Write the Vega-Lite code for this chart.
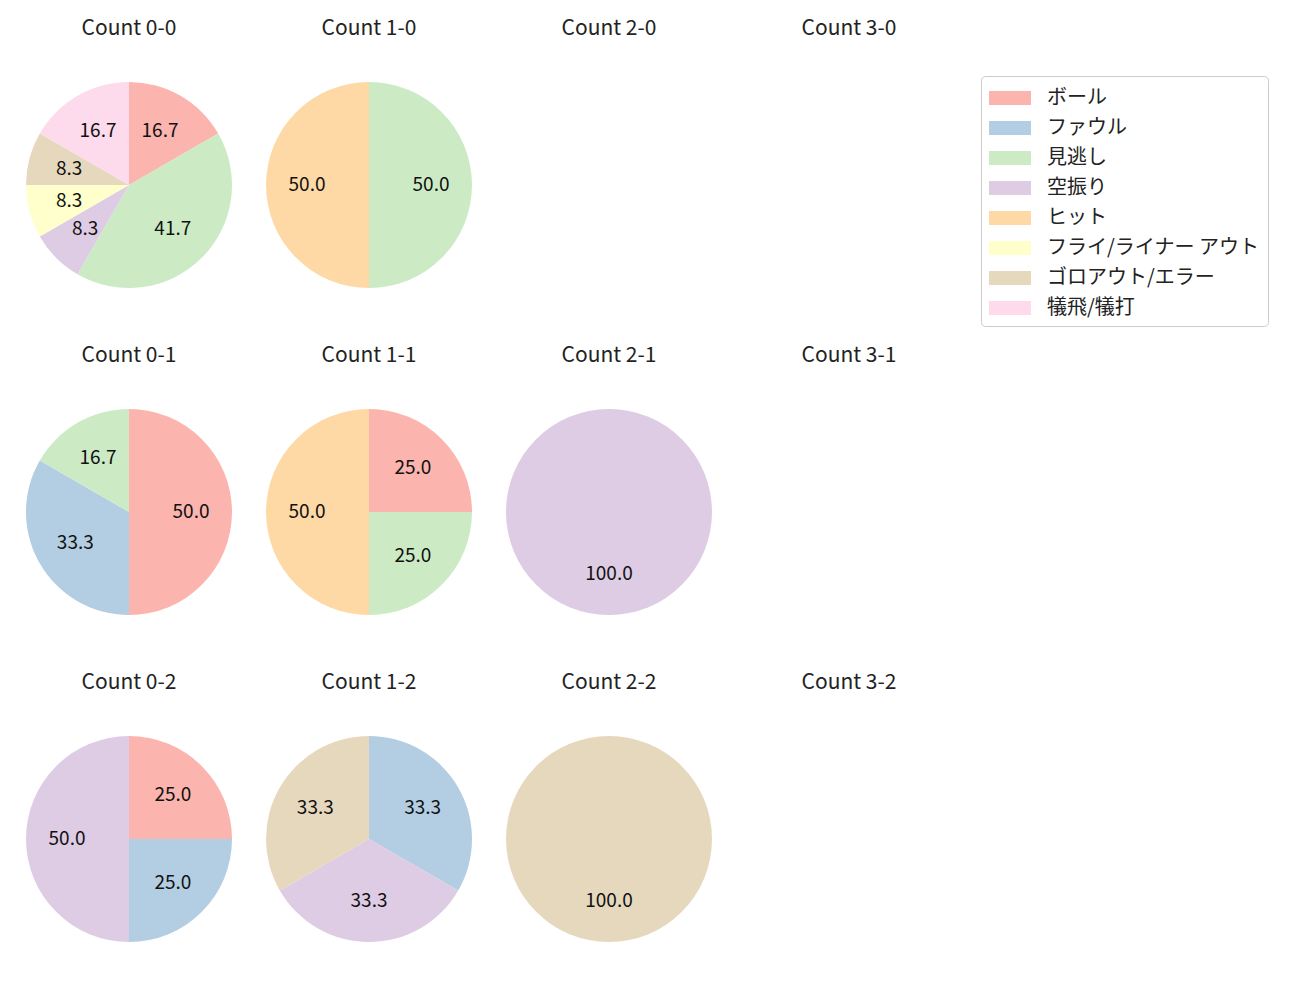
{
  "$schema": "https://vega.github.io/schema/vega-lite/v6.json",
  "padding": {"left": 26, "top": 18, "right": 0, "bottom": 0},
  "background": "white",
  "config": {
    "font": "Noto Sans CJK JP",
    "view": {"stroke": null},
    "legend": {
      "orient": "none",
      "legendX": 955,
      "legendY": -6,
      "strokeColor": "#cccccc",
      "fillColor": "white",
      "cornerRadius": 4,
      "padding": 8,
      "labelFontSize": 20,
      "labelColor": "#222222",
      "labelOffset": 30,
      "symbolType": "M-1,-0.5h3v1h-3z",
      "symbolSize": 784,
      "symbolStrokeWidth": 0,
      "rowPadding": 6,
      "labelLimit": 400
    }
  },
  "data": {
    "values": [
      {"count": "0-0", "type": "ボール", "pct": 16.67},
      {"count": "0-0", "type": "見逃し", "pct": 41.67},
      {"count": "0-0", "type": "空振り", "pct": 8.33},
      {"count": "0-0", "type": "フライ/ライナー アウト", "pct": 8.33},
      {"count": "0-0", "type": "ゴロアウト/エラー", "pct": 8.33},
      {"count": "0-0", "type": "犠飛/犠打", "pct": 16.67},
      {"count": "1-0", "type": "見逃し", "pct": 50},
      {"count": "1-0", "type": "ヒット", "pct": 50},
      {"count": "2-0", "type": "ボール", "pct": 0},
      {"count": "3-0", "type": "ボール", "pct": 0},
      {"count": "0-1", "type": "ボール", "pct": 50},
      {"count": "0-1", "type": "ファウル", "pct": 33.33},
      {"count": "0-1", "type": "見逃し", "pct": 16.67},
      {"count": "1-1", "type": "ボール", "pct": 25},
      {"count": "1-1", "type": "見逃し", "pct": 25},
      {"count": "1-1", "type": "ヒット", "pct": 50},
      {"count": "2-1", "type": "空振り", "pct": 100},
      {"count": "3-1", "type": "ボール", "pct": 0},
      {"count": "0-2", "type": "ボール", "pct": 25},
      {"count": "0-2", "type": "ファウル", "pct": 25},
      {"count": "0-2", "type": "空振り", "pct": 50},
      {"count": "1-2", "type": "ファウル", "pct": 33.33},
      {"count": "1-2", "type": "空振り", "pct": 33.33},
      {"count": "1-2", "type": "ゴロアウト/エラー", "pct": 33.34},
      {"count": "2-2", "type": "ゴロアウト/エラー", "pct": 100},
      {"count": "3-2", "type": "ボール", "pct": 0}
    ]
  },
  "facet": {
    "field": "count",
    "type": "nominal",
    "sort": ["0-0", "1-0", "2-0", "3-0", "0-1", "1-1", "2-1", "3-1", "0-2", "1-2", "2-2", "3-2"],
    "header": {
      "title": null,
      "labelExpr": "'Count ' + datum.value",
      "labelFontSize": 21,
      "labelColor": "#222222",
      "labelPadding": 43
    }
  },
  "columns": 4,
  "spacing": {"column": 34, "row": 57},
  "spec": {
    "width": 206,
    "height": 206,
    "encoding": {
      "theta": {"field": "pct", "type": "quantitative", "stack": true, "scale": {"domain": [0, 100]}},
      "order": {"field": "order", "type": "quantitative"}
    },
    "layer": [
      {
        "mark": {"type": "arc", "outerRadius": 103},
        "encoding": {
          "color": {
            "field": "type",
            "type": "nominal",
            "title": null,
            "scale": {
              "domain": ["ボール", "ファウル", "見逃し", "空振り", "ヒット", "フライ/ライナー アウト", "ゴロアウト/エラー", "犠飛/犠打"],
              "range": ["#fbb4ae", "#b3cde3", "#ccebc5", "#decbe4", "#fed9a6", "#ffffcc", "#e5d8bd", "#fddaec"]
            }
          }
        }
      },
      {
        "mark": {"type": "text", "radius": 62, "fontSize": 19, "color": "#111111"},
        "transform": [{"filter": "datum.pct > 0"}],
        "encoding": {
          "text": {"field": "pct", "type": "quantitative", "format": ".1f"}
        }
      }
    ]
  }
}
